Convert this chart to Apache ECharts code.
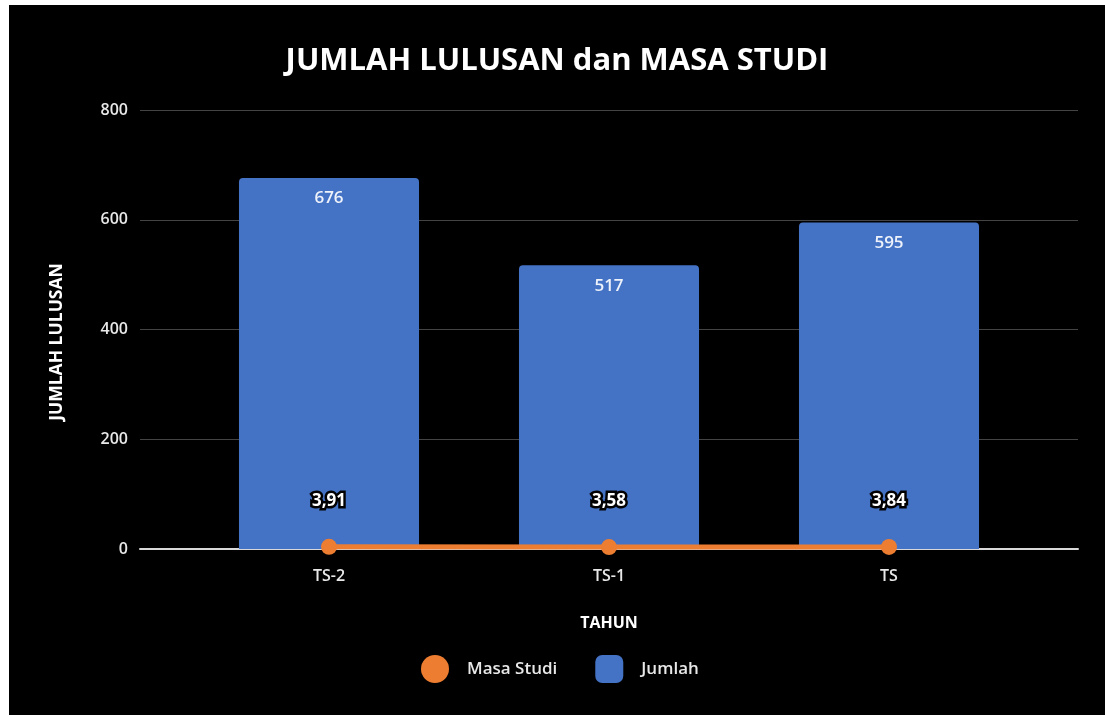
<!DOCTYPE html>
<html>
<head>
<meta charset="utf-8">
<script src="https://cdn.jsdelivr.net/npm/echarts@6/dist/echarts.min.js"></script>
<style>
html,body{margin:0;padding:0;background:#fff;width:1105px;height:715px;overflow:hidden;}
#c{position:absolute;left:9px;top:5px;width:1096px;height:710px;background:#000;}
</style>
</head>
<body>
<div id="c"></div>
<script>
const categories = ['TS-2', 'TS-1', 'TS'];
const jumlah = [676, 517, 595];
const masaStudi = [3.91, 3.58, 3.84];
const yTicks = [0, 200, 400, 600, 800];

const FONT = '"Open Sans", "Noto Sans", sans-serif';
const chart = echarts.init(document.getElementById('c'));
const fmt = v => String(v).replace('.', ',');

chart.setOption({
  backgroundColor: '#000',
  animation: false,
  textStyle: { fontFamily: FONT },
  title: {
    text: 'JUMLAH LULUSAN dan MASA STUDI',
    left: 'center',
    top: 36,
    textStyle: { color: '#fff', fontSize: 31, fontWeight: 'bold', fontFamily: FONT }
  },
  graphic: [{
    type: 'text',
    x: 48, y: 337,
    rotation: Math.PI / 2,
    style: {
      text: 'JUMLAH LULUSAN',
      fill: '#fff',
      font: 'bold 17.5px "Open Sans", "Noto Sans", sans-serif',
      align: 'center',
      verticalAlign: 'middle'
    }
  }],
  legend: {
    left: 407,
    top: 645,
    itemWidth: 28,
    itemHeight: 28,
    itemGap: 38,
    data: [
      { name: 'Masa Studi', icon: 'circle' },
      { name: 'Jumlah', icon: 'roundRect' }
    ],
    textStyle: { color: '#e8e8e8', fontSize: 17, fontWeight: 600, fontFamily: FONT, padding: [0, 0, 0, 13] }
  },
  grid: [
    { left: 131, right: 27, top: 105, bottom: 166 },
    { left: 180, right: 76, top: 105, bottom: 166 }
  ],
  xAxis: [
    {
      gridIndex: 0, type: 'category', data: categories,
      axisLine: { show: true, lineStyle: { color: '#d9d9d9', width: 2 } },
      axisTick: { show: false }, axisLabel: { show: false }, splitLine: { show: false }
    },
    {
      gridIndex: 1, type: 'category', data: categories,
      axisLine: { show: false }, axisTick: { show: false },
      axisLabel: { color: '#e8e8e8', fontSize: 16, fontWeight: 600, margin: 19, fontFamily: FONT },
      name: 'TAHUN', nameLocation: 'middle', nameGap: 66,
      nameTextStyle: { color: '#fff', fontSize: 16, fontWeight: 'bold', fontFamily: FONT }
    }
  ],
  yAxis: [
    {
      gridIndex: 0, type: 'value', min: yTicks[0], max: yTicks[yTicks.length - 1], interval: 200,
      axisLine: { show: false }, axisTick: { show: false },
      axisLabel: { color: '#e8e8e8', fontSize: 16, fontWeight: 600, margin: 12, fontFamily: FONT },
      splitLine: { lineStyle: { color: '#444', width: 1 } }
    },
    {
      gridIndex: 1, type: 'value', min: yTicks[0], max: yTicks[yTicks.length - 1], interval: 200,
      show: false, splitLine: { show: false }
    }
  ],
  series: [
    {
      name: 'Jumlah', type: 'bar', xAxisIndex: 1, yAxisIndex: 1,
      data: jumlah, barWidth: '64.3%', z: 2,
      itemStyle: { color: '#4472C4', borderRadius: [4, 4, 0, 0] },
      label: {
        show: true, position: 'insideTop', distance: 12,
        color: '#eef2fa', fontSize: 17, fontWeight: 600, fontFamily: FONT
      }
    },
    {
      name: 'Masa Studi', type: 'line', xAxisIndex: 1, yAxisIndex: 1,
      data: masaStudi, z: 5,
      symbol: 'circle', symbolSize: 16,
      lineStyle: { color: '#ED7D31', width: 5 },
      itemStyle: { color: '#ED7D31' },
      label: {
        show: true, position: 'top', distance: 29,
        formatter: p => fmt(p.value),
        color: '#fff', fontSize: 17, fontWeight: 'bold', fontFamily: FONT,
        textBorderColor: '#000', textBorderWidth: 5
      }
    }
  ]
});
</script>
</body>
</html>
